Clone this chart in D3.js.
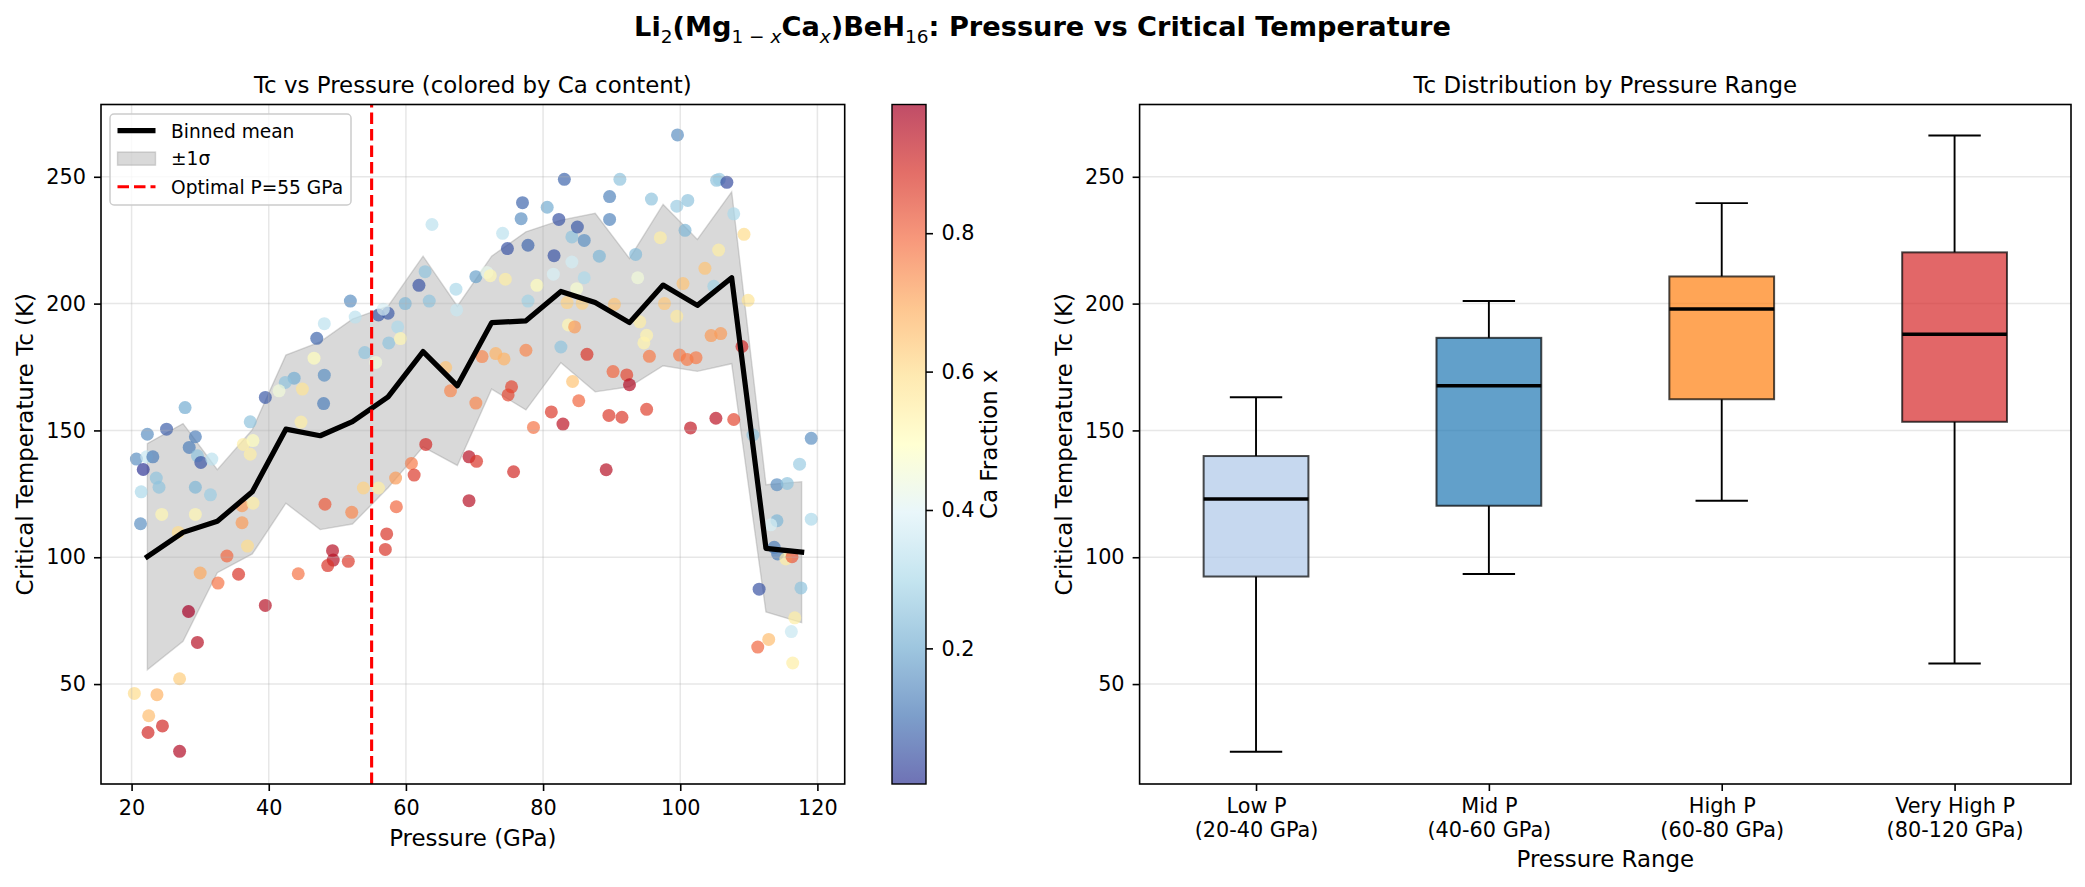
<!DOCTYPE html>
<html><head><meta charset="utf-8">
<script src="https://cdn.jsdelivr.net/npm/d3@7"></script>
<style>body{margin:0;background:#fff}svg{display:block}text{font-family:"DejaVu Sans",sans-serif}</style>
</head><body><svg id="c" width="2085" height="887"></svg>
<script>
// ---------- data ----------
const pressure = [20.7,22.2,23.1,21.7,28.4,29.6,30.1,31.7,23.6,24.0,21.4,29.3,31.5,21.3,24.4,29.3,26.8,36.1,37.7,36.1,36.9,36.3,37.7,37.3,33.9,30.0,32.6,35.6,28.3,29.6,39.5,44.3,48.2,49.3,49.4,48.6,51.6,27.0,20.4,23.7,22.5,22.4,24.5,27.0,
51.9,52.6,48.1,47.0,46.6,48.1,43.7,42.4,44.9,41.5,48.0,39.5,44.7,37.3,27.8,22.3,25.1,29.3,
54.0,55.6,56.0,57.4,56.7,58.8,57.5,59.2,59.9,61.9,62.8,63.4,63.8,67.3,67.4,65.8,66.5,62.9,70.2,71.8,72.3,71.1,73.1,74.3,70.2,75.4,74.9,74.1,74.8,74.5,77.0,76.8,77.8,77.8,77.5,79.1,78.6,80.6,81.2,82.9,83.1,82.3,81.6,81.5,84.2,85.0,86.0,84.2,86.0,84.9,83.5,85.7,83.7,84.6,82.6,86.4,84.3,85.2,88.2,
60.8,61.2,58.5,53.8,56.0,52.1,58.6,57.2,57.0,69.2,70.3,75.7,69.2,
99.6,91.2,89.7,89.7,95.8,99.5,101.1,105.3,105.7,106.8,107.8,109.3,100.7,97.1,93.5,93.8,105.6,103.6,100.4,104.9,109.9,90.4,97.7,99.5,94.1,95.1,94.7,104.5,105.9,95.5,99.9,101.0,102.3,109.0,90.2,92.2,92.6,89.6,91.5,95.1,101.5,105.2,107.8,110.6,119.1,89.2,117.4,114.1,115.6,114.1,113.2,119.1,113.7,114.2,115.4,116.3,111.5,117.6,116.7,116.2,112.9,111.3,116.4];
const tc = [138.7,139.6,139.6,134.6,143.3,140,137.4,138.7,131.2,127.6,125.8,127.6,124.6,113.2,116.9,116.9,109.8,120.3,121.3,113.6,104.4,144.5,146,140.6,100.5,93.8,89.8,93.3,78.6,66.4,81,93.5,120.9,102.6,98.9,96.7,98.4,52.1,46.3,45.8,37.5,30.9,33.5,23.5,
201,194.7,192.1,186.3,178.5,171.8,170.6,168.9,166.3,165.6,160.6,163,153.3,153.4,159,148.5,150.5,147.5,
180.7,176.8,195.5,196.2,197.8,190.8,184.5,186.2,200,207.2,212.6,201,231.2,205.7,197.5,174.8,165.6,144.5,210.6,212.3,211,179.1,180.3,178.2,160.8,167.2,164,227.7,221.7,209.6,239.8,233.5,223,201,181.6,207.2,151.2,238,157.3,152.5,249,233.2,218.9,211.6,226.3,230.2,224.9,216.4,210.2,205.9,200.4,200.1,191.6,190.8,182.9,180,169.3,161.7,218.7,
137,132.4,131.2,127.3,127.3,117.7,119.9,109.2,103.1,139.6,137.8,133.7,122.3,
266.5,249,242.2,233.2,241.2,238.4,240.7,248.6,249,247.8,235.4,227.3,228.9,226,219.4,210.2,221.1,213.9,207.9,206.8,201.3,199.7,200,195,192.8,187.5,184.5,187.4,188.2,179.2,179.7,178,178.7,183.1,173.2,171.9,168,155.9,155.2,158.3,151,154.8,154.3,148.2,146.9,134.5,136.7,128.6,129.1,114.4,112.8,115,103.9,101.3,99.3,100.2,87.4,87.9,76.1,70.7,67.6,64.6,58.3];
const caFrac = [0.15,0.35,0.12,0.004,0.12,0.25,0.05,0.33,0.25,0.25,0.3,0.22,0.27,0.15,0.52,0.52,0.6,0.72,0.55,0.72,0.6,0.55,0.5,0.55,0.8,0.7,0.78,0.88,0.986,0.95,0.95,0.78,0.82,0.95,0.95,0.88,0.87,0.63,0.6,0.68,0.66,0.9,0.9,0.96,
0.15,0.33,0.33,0.08,0.5,0.15,0.2,0.25,0.58,0.45,0.12,0.06,0.55,0.25,0.2,0.15,0.07,0.12,
0.25,0.45,0.06,0.06,0.38,0.3,0.25,0.52,0.22,0.05,0.25,0.25,0.33,0.3,0.35,0.65,0.75,0.9,0.18,0.42,0.52,0.75,0.68,0.68,0.75,0.85,0.85,0.33,0.05,0.55,0.08,0.15,0.08,0.28,0.75,0.5,0.78,0.2,0.87,0.94,0.08,0.05,0.05,0.38,0.25,0.06,0.15,0.37,0.3,0.47,0.62,0.62,0.52,0.72,0.25,0.88,0.65,0.8,0.22,
0.77,0.87,0.72,0.62,0.55,0.75,0.8,0.88,0.88,0.95,0.88,0.9,0.95,
0.15,0.25,0.13,0.13,0.25,0.27,0.25,0.25,0.27,0.04,0.3,0.6,0.22,0.55,0.23,0.45,0.55,0.65,0.65,0.28,0.58,0.65,0.64,0.56,0.55,0.53,0.53,0.72,0.72,0.77,0.77,0.77,0.77,0.9,0.8,0.85,0.96,0.87,0.87,0.86,0.93,0.94,0.85,0.25,0.15,0.95,0.27,0.15,0.25,0.22,0.38,0.3,0.12,0.12,0.55,0.82,0.05,0.25,0.55,0.35,0.66,0.8,0.55];

const binCenter = [22.3,27.5,32.5,37.6,42.5,47.5,52.2,57.4,62.5,67.5,72.5,77.5,82.6,87.6,92.6,97.5,102.5,107.5,112.5,117.7];
const binMean = [100.2,109.8,114.2,125.8,150.5,147.9,153.5,163.2,181.1,167.6,192.5,193.2,204.8,200.4,192.5,207.3,199.3,210.2,103.5,102];
const binStd = [44.6,42.9,20.3,24.5,29.2,37,40.4,35.8,37.6,31.4,26.2,35.1,28.1,35.2,25.3,31.8,26,33.9,25.1,27.8];
const optimalP = 55;

const boxLabels = [["Low P","(20-40 GPa)"],["Mid P","(40-60 GPa)"],["High P","(60-80 GPa)"],["Very High P","(80-120 GPa)"]];
const boxWhiskLo = [23.3,93.4,122.3,58.1];
const boxQ1 = [92.4,120.3,162.3,153.4];
const boxMed = [123.0,167.6,197.9,187.9];
const boxQ3 = [139.9,186.5,210.7,220.2];
const boxWhiskHi = [163.1,201.0,239.6,266.3];
const boxColors = ["#aec7e8","#1f77b4","#ff7f0e","#d62728"];

const xTicks = [20,40,60,80,100,120];
const yTicks = [50,100,150,200,250];
const cbTicks = [0.2,0.4,0.6,0.8];
const rdylbu = ["#a50026","#d73027","#f46d43","#fdae61","#fee090","#ffffbf","#e0f3f8","#abd9e9","#74add1","#4575b4","#313695"];

// ---------- layout ----------
const svg = d3.select("#c");
const L = {x0:101, x1:844.7, y0:104.5, y1:784};
const R = {x0:1139.6, x1:2071, y0:104.5, y1:784};
const CB = {x0:892, x1:926};
const TICK = 20.8, LAB = 22.9;

const x = d3.scaleLinear().domain([15.54,123.98]).range([L.x0,L.x1]);
const y = d3.scaleLinear().domain([10.6,278.5]).range([L.y1,L.y0]);
const xR = d3.scaleLinear().domain([0.5,4.5]).range([R.x0,R.x1]);
const cmapR = rdylbu.slice().reverse();
const cmap = d3.scaleLinear().domain(d3.range(11).map(i=>i/10)).range(cmapR).interpolate(d3.interpolateRgb);
const cExt = d3.extent(caFrac);
const norm = d3.scaleLinear().domain(cExt).range([0,1]);
const cb = d3.scaleLinear().domain(cExt).range([L.y1,L.y0]);

function styleAxis(g){
  g.select(".domain").remove();
  g.selectAll(".tick line").attr("stroke","#000").attr("stroke-width",1.6);
  g.selectAll(".tick text").attr("fill","#000").style("font-size",TICK+"px").style("font-family","DejaVu Sans");
}

// ---------- left plot ----------
const gL = svg.append("g");
const area = d3.area().x((d,i)=>x(binCenter[i])).y0((d,i)=>y(binMean[i]-binStd[i])).y1((d,i)=>y(binMean[i]+binStd[i]));
gL.append("path").attr("d",area(binCenter)).attr("fill","#808080").attr("fill-opacity",0.3)
  .attr("stroke","#808080").attr("stroke-opacity",0.3).attr("stroke-width",1.4);
gL.append("g").selectAll("circle").data(pressure).join("circle")
  .attr("cx",(d)=>x(d)).attr("cy",(d,i)=>y(tc[i])).attr("r",6.5)
  .attr("fill",(d,i)=>cmap(norm(caFrac[i]))).attr("fill-opacity",0.7);
const gridL = gL.append("g").attr("stroke","#b0b0b0").attr("stroke-opacity",0.3).attr("stroke-width",1.5);
xTicks.forEach(t=>gridL.append("line").attr("x1",x(t)).attr("x2",x(t)).attr("y1",L.y0).attr("y2",L.y1));
yTicks.forEach(t=>gridL.append("line").attr("x1",L.x0).attr("x2",L.x1).attr("y1",y(t)).attr("y2",y(t)));
const line = d3.line().x((d,i)=>x(binCenter[i])).y((d,i)=>y(binMean[i]));
gL.append("path").attr("d",line(binCenter)).attr("fill","none").attr("stroke","#000")
  .attr("stroke-width",5.2).attr("stroke-linejoin","round").attr("stroke-linecap","square");
gL.append("line").attr("x1",x(optimalP)).attr("x2",x(optimalP)).attr("y1",L.y1).attr("y2",L.y0)
  .attr("stroke","red").attr("stroke-width",3.1).attr("stroke-dasharray","11.5,5");
gL.append("rect").attr("x",L.x0).attr("y",L.y0).attr("width",L.x1-L.x0).attr("height",L.y1-L.y0)
  .attr("fill","none").attr("stroke","#000").attr("stroke-width",1.6);
gL.append("g").attr("transform",`translate(0,${L.y1})`)
  .call(d3.axisBottom(x).tickValues(xTicks).tickSize(7).tickPadding(9).tickFormat(d3.format("d"))).call(styleAxis);
gL.append("g").attr("transform",`translate(${L.x0},0)`)
  .call(d3.axisLeft(y).tickValues(yTicks).tickSize(7).tickPadding(8).tickFormat(d3.format("d"))).call(styleAxis);
svg.append("text").attr("x",(L.x0+L.x1)/2).attr("y",846).attr("text-anchor","middle").style("font-size",LAB+"px").text("Pressure (GPa)");
svg.append("text").attr("transform",`translate(33,${(L.y0+L.y1)/2}) rotate(-90)`).attr("text-anchor","middle").style("font-size",LAB+"px").text("Critical Temperature Tc (K)");
svg.append("text").attr("x",(L.x0+L.x1)/2).attr("y",93).attr("text-anchor","middle").style("font-size",LAB+"px").text("Tc vs Pressure (colored by Ca content)");

// legend
const lg = svg.append("g");
lg.append("rect").attr("x",110).attr("y",114).attr("width",241).attr("height",91).attr("rx",4)
  .attr("fill","#fff").attr("fill-opacity",0.8).attr("stroke","#cccccc").attr("stroke-width",1.5);
lg.append("line").attr("x1",117.5).attr("x2",155.5).attr("y1",130.7).attr("y2",130.7).attr("stroke","#000").attr("stroke-width",5.2);
lg.append("rect").attr("x",117.5).attr("y",152).attr("width",38).attr("height",13.2)
  .attr("fill","#808080").attr("fill-opacity",0.3).attr("stroke","#808080").attr("stroke-opacity",0.3).attr("stroke-width",1.4);
lg.append("line").attr("x1",117.5).attr("x2",155.5).attr("y1",186.7).attr("y2",186.7).attr("stroke","red").attr("stroke-width",3.1).attr("stroke-dasharray","11.5,5");
[["Binned mean",137.5],["±1σ",165],["Optimal P=55 GPa",193.5]].forEach(([t,yy])=>
  lg.append("text").attr("x",171).attr("y",yy).style("font-size","18.6px").text(t));

// colorbar
const defs = svg.append("defs");
const grad = defs.append("linearGradient").attr("id","cbg").attr("x1",0).attr("x2",0).attr("y1",1).attr("y2",0);
d3.range(0,1.0001,0.05).forEach(t=>grad.append("stop").attr("offset",t).attr("stop-color",cmap(t)).attr("stop-opacity",0.7));
svg.append("rect").attr("x",CB.x0).attr("y",L.y0).attr("width",CB.x1-CB.x0).attr("height",L.y1-L.y0)
  .attr("fill","url(#cbg)").attr("stroke","#000").attr("stroke-width",1.4);
svg.append("g").attr("transform",`translate(${CB.x1},0)`)
  .call(d3.axisRight(cb).tickValues(cbTicks).tickSize(7).tickPadding(8.5).tickFormat(d3.format(".1f"))).call(styleAxis);
svg.append("text").attr("transform",`translate(997,${(L.y0+L.y1)/2}) rotate(-90)`).attr("text-anchor","middle").style("font-size",LAB+"px").text("Ca Fraction x");

// ---------- right plot ----------
const gR = svg.append("g");
const gridR = gR.append("g").attr("stroke","#b0b0b0").attr("stroke-opacity",0.3).attr("stroke-width",1.5);
yTicks.forEach(t=>gridR.append("line").attr("x1",R.x0).attr("x2",R.x1).attr("y1",y(t)).attr("y2",y(t)));
const bw = 0.45;
boxLabels.forEach((lab,i)=>{
  const p = i+1;
  const g = gR.append("g");
  g.append("line").attr("x1",xR(p)).attr("x2",xR(p)).attr("y1",y(boxWhiskLo[i])).attr("y2",y(boxQ1[i])).attr("stroke","#000").attr("stroke-width",1.9);
  g.append("line").attr("x1",xR(p)).attr("x2",xR(p)).attr("y1",y(boxQ3[i])).attr("y2",y(boxWhiskHi[i])).attr("stroke","#000").attr("stroke-width",1.9);
  [boxWhiskLo[i],boxWhiskHi[i]].forEach(v=>g.append("line").attr("x1",xR(p-bw/4)).attr("x2",xR(p+bw/4)).attr("y1",y(v)).attr("y2",y(v)).attr("stroke","#000").attr("stroke-width",1.9));
  g.append("rect").attr("x",xR(p-bw/2)).attr("width",xR(p+bw/2)-xR(p-bw/2)).attr("y",y(boxQ3[i])).attr("height",y(boxQ1[i])-y(boxQ3[i]))
    .attr("fill",boxColors[i]).attr("fill-opacity",0.7).attr("stroke","#000").attr("stroke-opacity",0.7).attr("stroke-width",2);
  g.append("line").attr("x1",xR(p-bw/2)).attr("x2",xR(p+bw/2)).attr("y1",y(boxMed[i])).attr("y2",y(boxMed[i])).attr("stroke","#000").attr("stroke-width",3.5);
});
gR.append("rect").attr("x",R.x0).attr("y",R.y0).attr("width",R.x1-R.x0).attr("height",R.y1-R.y0)
  .attr("fill","none").attr("stroke","#000").attr("stroke-width",1.6);
const axB = gR.append("g").attr("transform",`translate(0,${R.y1})`)
  .call(d3.axisBottom(xR).tickValues([1,2,3,4]).tickSize(7).tickFormat(()=>"")).call(styleAxis);
axB.selectAll(".tick text").each(function(d){
  const t = d3.select(this).attr("y",null).attr("dy",null);
  boxLabels[d-1].forEach((s,k)=>t.append("tspan").attr("x",0).attr("y",[29,53][k]).text(s));
});
gR.append("g").attr("transform",`translate(${R.x0},0)`)
  .call(d3.axisLeft(y).tickValues(yTicks).tickSize(7).tickPadding(8).tickFormat(d3.format("d"))).call(styleAxis);
svg.append("text").attr("x",(R.x0+R.x1)/2).attr("y",867).attr("text-anchor","middle").style("font-size",LAB+"px").text("Pressure Range");
svg.append("text").attr("transform",`translate(1072,${(R.y0+R.y1)/2}) rotate(-90)`).attr("text-anchor","middle").style("font-size",LAB+"px").text("Critical Temperature Tc (K)");
svg.append("text").attr("x",(R.x0+R.x1)/2).attr("y",93).attr("text-anchor","middle").style("font-size",LAB+"px").text("Tc Distribution by Pressure Range");

// ---------- suptitle ----------
const segs = [["Li",0],["2",1],["(Mg",0],["1 − ",1],["x",2],["Ca",0],["x",2],[")BeH",0],["16",1],[": Pressure vs Critical Temperature",0]];
const st = svg.append("text").attr("x",1042.5).attr("y",36).attr("text-anchor","middle").style("font-size","27.2px").style("font-weight","bold");
let sub = false;
segs.forEach(([s,k])=>{
  const ts = st.append("tspan").text(s);
  if(k>0){ ts.style("font-size","18.5px").style("font-weight","normal"); if(k===2) ts.style("font-style","italic"); if(!sub){ts.attr("dy",6.5); sub=true;} }
  else if(sub){ ts.attr("dy",-6.5); sub=false; }
});
</script></body></html>
